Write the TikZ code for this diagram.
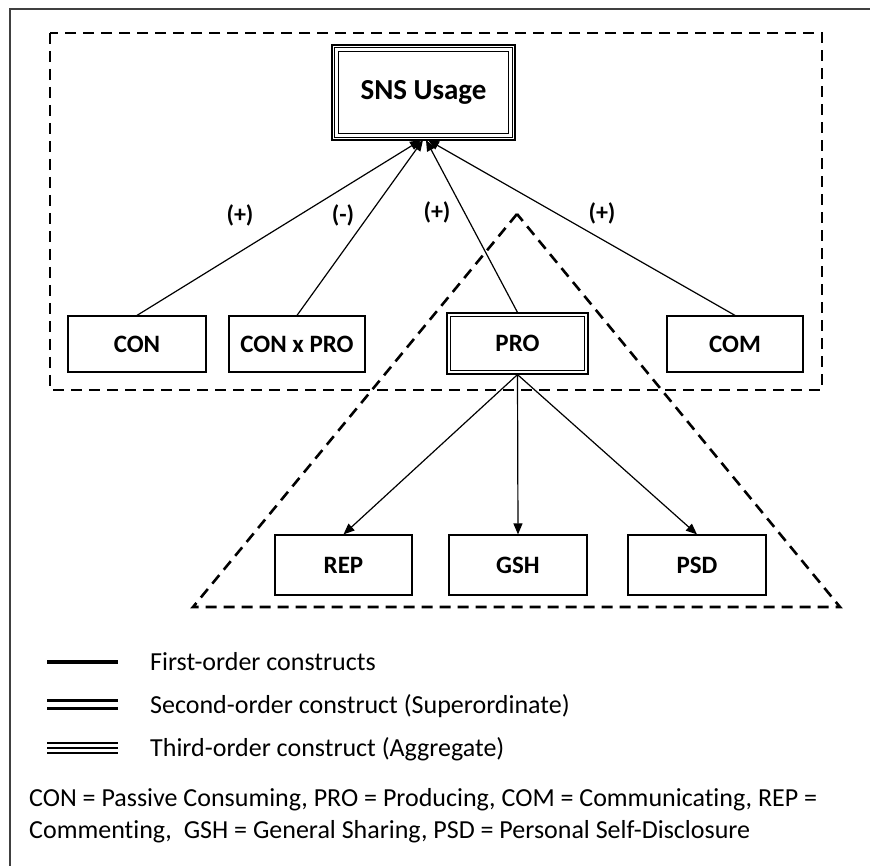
\documentclass[tikz,border=0pt]{standalone}
\usepackage{fontspec}
\setmainfont{Carlito}[Ligatures={NoCommon}]
\usetikzlibrary{arrows.meta}
\begin{document}
\begin{tikzpicture}[x=1pt,y=-1pt,
  box/.style={draw, line width=1.2pt, minimum width=138pt, minimum height=56pt, inner sep=0pt, font=\fontsize{25}{29}\selectfont\bfseries},
  conn/.style={line width=1.2pt, -{Triangle[length=11pt,width=9pt]}},
  dsh/.style={line width=2.6pt, dash pattern=on 11pt off 7pt},
  lbl/.style={font=\fontsize{24}{28}\selectfont\bfseries, inner sep=0pt},
  txt/.style={font=\fontsize{26}{31}\selectfont, inner sep=0pt, anchor=base west},
  frame/.style={draw=black!75, line width=1.5pt}]
\useasboundingbox (0,0) rectangle (870,866);
% outer frame (top and left only)
\coordinate (fTL) at (10,9);
\coordinate (fTR) at (870,9);
\coordinate (fBL) at (10,866);
\draw[frame] (fTR) -- (fTL) -- (fBL);
% dashed rectangle
\coordinate (dA) at (50,33);
\coordinate (dB) at (822,390);
\draw[dsh] (dA) rectangle (dB);
% dashed triangle
\coordinate (tA) at (517,214);
\coordinate (tL) at (193,607);
\coordinate (tR) at (840,607);
\draw[dsh] (tA) -- (tL) -- (tR) -- cycle;
% SNS Usage (triple border)
\node[draw, line width=1.6pt, minimum width=183pt, minimum height=95pt, inner sep=0pt,
      font=\fontsize{29}{34}\selectfont\bfseries, fill=white] (sns) at (423.5,92.5) {SNS Usage};
\draw[line width=1.3pt] ([shift={(3.5,3.5)}]sns.north west) rectangle ([shift={(-3.5,-3.5)}]sns.south east);
\draw[line width=1.1pt] ([shift={(7.5,7.5)}]sns.north west) rectangle ([shift={(-7.5,-7.5)}]sns.south east);
% first-order boxes
\node[box, fill=white] (con) at (137,344) {CON};
\node[box, fill=white, minimum width=136pt] (cxp) at (297,344) {CON x PRO};
\node[box, fill=white, minimum width=141pt, minimum height=61pt] (pro) at (517.5,343.5) {PRO};
\draw[line width=1.2pt] ([shift={(4,4)}]pro.north west) rectangle ([shift={(-4,-4)}]pro.south east);
\node[box, fill=white, minimum width=136pt] (com) at (735,344) {COM};
\node[box, fill=white, minimum width=137pt, minimum height=60pt] (rep) at (343.5,565) {REP};
\node[box, fill=white, minimum height=60pt] (gsh) at (518,565) {GSH};
\node[box, fill=white, minimum height=60pt] (psd) at (697,565) {PSD};
% converging ends at SNS Usage
\coordinate (s1) at (421,140);
\coordinate (s2) at (423,140);
\coordinate (s3) at (426,140);
\coordinate (s4) at (428,140);
\draw[conn] (con.north) -- (s1);
\draw[conn] (cxp.north) -- (s2);
\draw[conn] (pro.north) -- (s3);
\draw[conn] (com.north) -- (s4);
\draw[conn] (pro.south) -- (rep.north);
\draw[conn] (pro.south) -- (gsh.north);
\draw[conn] (pro.south) -- (psd.north);
% path labels
\node[lbl] (l1) at (240,215) {(+)};
\node[lbl] (l2) at (343,215) {(-)};
\node[lbl] (l3) at (437,212) {(+)};
\node[lbl] (l4) at (602,213) {(+)};
% legend
\coordinate (g1a) at (47,662); \coordinate (g1b) at (118,662);
\draw[line width=4.5pt] (g1a) -- (g1b);
\coordinate (g2a) at (47,700.5); \coordinate (g2b) at (118,700.5);
\coordinate (g2c) at (47,708.5); \coordinate (g2d) at (118,708.5);
\draw[line width=2.4pt] (g2a) -- (g2b);
\draw[line width=2.4pt] (g2c) -- (g2d);
\coordinate (g3a) at (47,743); \coordinate (g3b) at (118,743);
\coordinate (g3c) at (47,748); \coordinate (g3d) at (118,748);
\coordinate (g3e) at (47,753); \coordinate (g3f) at (118,753);
\draw[line width=2.7pt] (g3a) -- (g3b);
\draw[line width=2.7pt] (g3c) -- (g3d);
\draw[line width=2.7pt] (g3e) -- (g3f);
\node[txt] (t1) at (150,670) {First-order constructs};
\node[txt] (t2) at (150,713) {Second-order construct (Superordinate)};
\node[txt] (t3) at (150,756) {Third-order construct (Aggregate)};
\node[txt] (t4) at (29,806) {CON = Passive Consuming, PRO = Producing, COM = Communicating, REP =};
\node[txt] (t5) at (29,838) {Commenting,\ \ GSH = General Sharing, PSD = Personal Self-Disclosure};
\end{tikzpicture}
\end{document}
